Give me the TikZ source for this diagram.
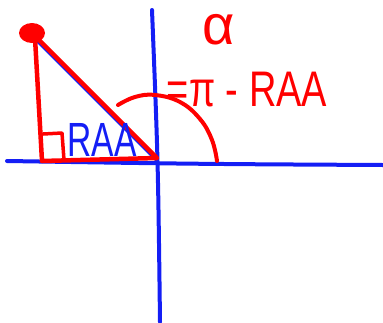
\documentclass[tikz,border=0pt]{standalone}
\usepackage{fontspec}
\setmainfont{Liberation Sans}
\definecolor{pen red}{RGB}{255,0,0}
\definecolor{pen blue}{RGB}{20,30,245}
\tikzset{
  redpen/.style={draw=pen red, line width=4.5pt, line cap=round, line join=round},
  bluepen/.style={draw=pen blue, line width=4pt, line cap=round, line join=round},
  label red/.style={text=pen red, inner sep=0pt, font=\fontsize{50}{50}\selectfont},
  label blue/.style={text=pen blue, inner sep=0pt, font=\fontsize{48}{48}\selectfont},
}
\begin{document}
\begin{tikzpicture}[x=1pt,y=-1pt]
\useasboundingbox (0,0) rectangle (383,322);
% axes
\coordinate (xl) at (7,161);
\coordinate (xm) at (200,164);
\coordinate (xr) at (383,165);
\coordinate (yt) at (152,10);
\coordinate (ym) at (158,160);
\coordinate (yb) at (160,322);
\draw[bluepen] (xl) .. controls (xm) .. (xr);
\draw[bluepen] (yt) .. controls (ym) .. (yb);
% triangle
\coordinate (p) at (32,33);
\coordinate (c) at (42,161);
\coordinate (h) at (157,158);
\coordinate (pb) at (31,35);
\coordinate (hb) at (156,160);
\draw[bluepen, line width=2.5pt] (pb) -- (hb);
\draw[redpen] (p) -- (h) -- (c) -- (35,38);
\fill[pen red] (p) ellipse[x radius=13pt, y radius=10pt];
% right angle mark
\draw[redpen, line width=3.5pt] (43,134) -- (62,133) -- (64,160);
% arc for alpha
\draw[redpen, line width=4pt] plot[smooth, tension=0.7] coordinates
  {(118,105) (135,97) (155,95) (180,102) (200,119) (212,140) (217,161)};
% labels
\node[label blue, xscale=0.7] (raa) at (102,140) {RAA};
\node[label red, font=\fontsize{56}{56}\selectfont] (alpha) at (219,30) {α};
\node[label red, xscale=0.76] (formula) at (247,90) {=π - RAA};
\end{tikzpicture}
\end{document}
